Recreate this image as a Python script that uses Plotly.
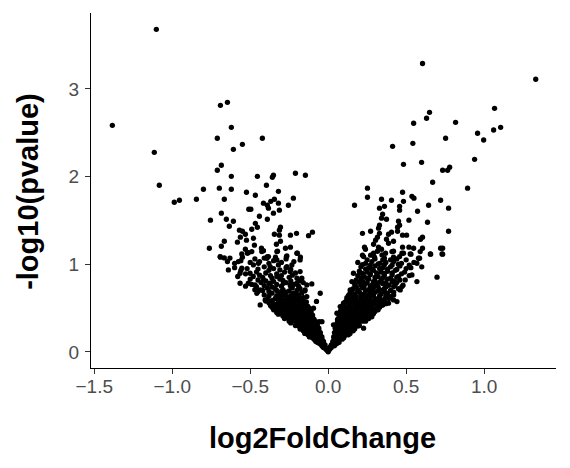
import plotly.graph_objects as go

# (log2FoldChange, -log10(pvalue)) pairs
down_sparse = [
    (-1.102, 3.68), (-1.384, 2.585), (-0.691, 2.813), (-0.646, 2.847), (-0.621, 2.562),
    (-0.711, 2.437), (-0.422, 2.437), (-1.115, 2.277), (-1.083, 1.901), (-0.550, 2.368),
    (-0.608, 2.311), (-0.685, 2.129), (-0.711, 2.072), (-0.621, 2.003), (-0.800, 1.855),
    (-0.698, 1.867), (-0.621, 1.855), (-0.524, 1.821), (-0.987, 1.707), (-0.954, 1.730),
    (-0.845, 1.741), (-0.666, 1.741), (-0.509, 1.627), (-0.685, 1.582), (-0.755, 1.502),
    (-0.653, 1.513), (-0.608, 1.490), (-0.634, 1.433), (-0.569, 1.388), (-0.550, 1.376),
    (-0.531, 1.342), (-0.563, 1.308), (-0.524, 1.274), (-0.582, 1.251), (-0.666, 1.262),
    (-0.685, 1.205), (-0.762, 1.182), (-0.531, 1.171), (-0.518, 1.125), (-0.691, 1.080),
    (-0.666, 1.072), (-0.550, 1.080),
    (-0.454, 2.003), (-0.358, 1.992), (-0.351, 2.015), (-0.210, 2.038), (-0.146, 2.015),
    (-0.396, 1.901), (-0.319, 1.832), (-0.467, 1.787), (-0.223, 1.753), (-0.345, 1.741),
    (-0.368, 1.718), (-0.415, 1.696), (-0.390, 1.673), (-0.319, 1.696), (-0.255, 1.673),
    (-0.383, 1.639), (-0.313, 1.616), (-0.351, 1.582), (-0.496, 1.627), (-0.441, 1.547),
    (-0.390, 1.513), (-0.467, 1.467), (-0.454, 1.422), (-0.490, 1.399), (-0.306, 1.422),
    (-0.313, 1.388), (-0.345, 1.342), (-0.313, 1.331), (-0.242, 1.331), (-0.203, 1.353),
    (-0.101, 1.365), (-0.126, 1.326), (-0.479, 1.296), (-0.306, 1.262), (-0.332, 1.228),
    (-0.473, 1.217), (-0.428, 1.182), (-0.415, 1.155), (-0.274, 1.182), (-0.242, 1.194),
    (-0.325, 1.148), (-0.197, 1.125), (-0.178, 1.080), (-0.390, 1.087), (-0.338, 1.080),
    (-0.268, 1.087),
]

down_middle = [
    (-0.693, 1.087), (-0.646, 1.030), (-0.640, 0.935), (-0.576, 1.030), (-0.554, 1.117),
    (-0.512, 1.132), (-0.490, 1.144), (-0.426, 1.144), (-0.383, 1.087), (-0.329, 1.144),
    (-0.265, 1.095), (-0.201, 1.125), (-0.180, 1.049), (-0.565, 0.897), (-0.554, 0.954),
    (-0.501, 0.897), (-0.479, 0.992), (-0.447, 1.011), (-0.393, 1.068), (-0.372, 0.973),
    (-0.329, 1.049), (-0.319, 0.992), (-0.265, 0.973), (-0.233, 0.992), (-0.244, 0.916),
    (-0.180, 0.916), (-0.169, 0.840), (-0.565, 0.783), (-0.512, 0.783), (-0.469, 0.764),
    (-0.436, 0.707), (-0.458, 0.669), (-0.415, 0.821), (-0.372, 0.783), (-0.329, 0.859),
    (-0.287, 0.783), (-0.244, 0.764), (-0.201, 0.783), (-0.137, 0.764), (-0.105, 0.775),
    (-0.148, 0.707), (-0.051, 0.669), (-0.075, 0.575), (-0.094, 0.498), (-0.058, 0.345),
    (-0.436, 0.536), (-0.372, 0.555), (-0.404, 0.593), (-0.308, 0.593), (-0.265, 0.631),
    (-0.223, 0.669), (-0.180, 0.593), (-0.137, 0.631),
    (-0.18, 0.72), (-0.23, 0.73), (-0.29, 0.71), (-0.34, 0.72), (-0.39, 0.73), (-0.47, 0.71),
    (-0.16, 0.79), (-0.22, 0.77), (-0.27, 0.79), (-0.33, 0.77), (-0.38, 0.78), (-0.43, 0.79),
    (-0.49, 0.77), (-0.20, 0.84), (-0.25, 0.85), (-0.31, 0.83), (-0.36, 0.84), (-0.42, 0.85),
    (-0.50, 0.83), (-0.58, 0.86), (-0.21, 0.90), (-0.28, 0.91), (-0.33, 0.89), (-0.40, 0.90),
    (-0.46, 0.91), (-0.53, 0.89), (-0.27, 0.96), (-0.35, 0.95), (-0.41, 0.97), (-0.52, 0.95),
    (-0.60, 0.96), (-0.30, 1.02), (-0.38, 1.01), (-0.44, 1.03), (-0.50, 1.02), (-0.60, 1.01),
    (-0.15, 0.695), (-0.20, 0.70), (-0.25, 0.695), (-0.30, 0.69), (-0.33, 0.70), (-0.38, 0.69),
    (-0.42, 0.70), (-0.45, 0.69), (-0.19, 0.75), (-0.24, 0.745), (-0.30, 0.75), (-0.36, 0.74),
    (-0.41, 0.755), (-0.46, 0.745), (-0.53, 0.75), (-0.18, 0.81), (-0.24, 0.81), (-0.29, 0.815),
    (-0.35, 0.805), (-0.40, 0.81), (-0.45, 0.82), (-0.23, 0.875), (-0.30, 0.87), (-0.37, 0.87),
    (-0.44, 0.875), (-0.48, 0.86), (-0.24, 0.94), (-0.31, 0.935), (-0.38, 0.93), (-0.45, 0.945),
    (-0.56, 0.93), (-0.22, 1.03), (-0.27, 1.06), (-0.35, 1.04), (-0.41, 1.07), (-0.47, 1.06),
    (-0.56, 1.04), (-0.63, 1.07),
]

down_core = [
    (-0.01, 0.02), (-0.02, 0.04), (0.00, 0.01), (-0.03, 0.05), (0.00, 0.00),
    (-0.02, 0.08), (-0.04, 0.07), (-0.05, 0.09),
    (-0.03, 0.12), (-0.05, 0.13), (-0.07, 0.11), (-0.08, 0.12),
    (-0.04, 0.17), (-0.06, 0.16), (-0.08, 0.18), (-0.10, 0.16), (-0.12, 0.17),
    (-0.05, 0.22), (-0.07, 0.21), (-0.09, 0.23), (-0.11, 0.21), (-0.13, 0.22), (-0.15, 0.21),
    (-0.06, 0.27), (-0.08, 0.26), (-0.10, 0.28), (-0.12, 0.26), (-0.14, 0.27), (-0.16, 0.28),
    (-0.18, 0.26),
    (-0.07, 0.31), (-0.09, 0.33), (-0.11, 0.32), (-0.13, 0.31), (-0.15, 0.33), (-0.17, 0.31),
    (-0.19, 0.32), (-0.21, 0.30),
    (-0.09, 0.37), (-0.11, 0.36), (-0.13, 0.38), (-0.15, 0.36), (-0.17, 0.37), (-0.19, 0.38),
    (-0.21, 0.36), (-0.23, 0.37), (-0.25, 0.35),
    (-0.10, 0.42), (-0.12, 0.41), (-0.14, 0.43), (-0.16, 0.41), (-0.19, 0.42), (-0.21, 0.43),
    (-0.23, 0.41), (-0.25, 0.42), (-0.27, 0.40), (-0.29, 0.41),
    (-0.11, 0.47), (-0.13, 0.46), (-0.15, 0.48), (-0.18, 0.46), (-0.20, 0.47), (-0.22, 0.48),
    (-0.25, 0.46), (-0.27, 0.47), (-0.29, 0.45), (-0.31, 0.46), (-0.33, 0.45),
    (-0.13, 0.52), (-0.16, 0.51), (-0.18, 0.53), (-0.21, 0.51), (-0.24, 0.52), (-0.26, 0.53),
    (-0.29, 0.51), (-0.31, 0.52), (-0.34, 0.50), (-0.36, 0.51),
    (-0.14, 0.57), (-0.17, 0.56), (-0.20, 0.58), (-0.23, 0.56), (-0.26, 0.58), (-0.29, 0.56),
    (-0.32, 0.57), (-0.35, 0.55), (-0.38, 0.56),
    (-0.16, 0.62), (-0.19, 0.61), (-0.22, 0.63), (-0.26, 0.61), (-0.30, 0.62), (-0.34, 0.61),
    (-0.39, 0.60),
    (-0.17, 0.67), (-0.21, 0.66), (-0.27, 0.68), (-0.31, 0.66), (-0.36, 0.67), (-0.41, 0.65),
]

down_core_fill = [
    (-0.015, 0.045), (-0.035, 0.06), (-0.03, 0.10), (-0.06, 0.10),
    (-0.04, 0.145), (-0.06, 0.14), (-0.09, 0.145),
    (-0.05, 0.195), (-0.07, 0.19), (-0.09, 0.20), (-0.11, 0.19), (-0.13, 0.195),
    (-0.06, 0.245), (-0.08, 0.24), (-0.10, 0.25), (-0.12, 0.24), (-0.14, 0.245), (-0.16, 0.24),
    (-0.07, 0.29), (-0.09, 0.30), (-0.11, 0.29), (-0.13, 0.295), (-0.15, 0.30), (-0.17, 0.29),
    (-0.19, 0.295),
    (-0.08, 0.345), (-0.10, 0.35), (-0.12, 0.34), (-0.14, 0.345), (-0.16, 0.35), (-0.18, 0.34),
    (-0.20, 0.345), (-0.22, 0.35), (-0.24, 0.33),
    (-0.10, 0.395), (-0.12, 0.39), (-0.14, 0.40), (-0.17, 0.39), (-0.20, 0.395), (-0.22, 0.40),
    (-0.24, 0.39), (-0.26, 0.385), (-0.28, 0.38),
    (-0.11, 0.445), (-0.14, 0.44), (-0.17, 0.45), (-0.19, 0.44), (-0.21, 0.445), (-0.24, 0.44),
    (-0.26, 0.445), (-0.28, 0.43), (-0.30, 0.435), (-0.32, 0.43),
    (-0.12, 0.495), (-0.14, 0.50), (-0.17, 0.49), (-0.19, 0.50), (-0.23, 0.495), (-0.26, 0.49),
    (-0.28, 0.50), (-0.30, 0.49), (-0.32, 0.485), (-0.35, 0.48),
    (-0.15, 0.545), (-0.19, 0.54), (-0.22, 0.545), (-0.25, 0.54), (-0.28, 0.545), (-0.30, 0.54),
    (-0.33, 0.535), (-0.37, 0.53),
    (-0.16, 0.595), (-0.21, 0.59), (-0.24, 0.60), (-0.28, 0.59), (-0.32, 0.595), (-0.36, 0.585),
    (-0.40, 0.58),
    (-0.19, 0.645), (-0.24, 0.64), (-0.29, 0.645), (-0.33, 0.64), (-0.38, 0.635),
]

up_sparse = [
    (0.605, 3.29), (1.331, 3.11), (0.650, 2.733), (0.631, 2.665), (0.548, 2.608),
    (0.817, 2.619), (1.067, 2.779), (0.958, 2.494), (1.061, 2.531), (1.106, 2.562),
    (0.753, 2.437), (0.997, 2.417), (0.413, 2.345), (0.483, 2.140),
    (0.169, 1.673), (0.252, 1.867), (0.252, 1.764), (0.342, 1.741), (0.406, 1.730),
    (0.477, 1.821), (0.483, 1.718), (0.329, 1.639), (0.361, 1.661), (0.458, 1.661),
    (0.458, 1.616), (0.349, 1.570), (0.342, 1.525), (0.374, 1.513), (0.451, 1.490),
    (0.518, 1.502), (0.329, 1.445), (0.323, 1.411), (0.445, 1.422), (0.458, 1.445),
    (0.220, 1.353), (0.272, 1.376), (0.329, 1.353), (0.387, 1.342), (0.406, 1.365),
    (0.445, 1.376), (0.477, 1.331), (0.503, 1.331), (0.316, 1.308), (0.304, 1.274),
    (0.374, 1.285), (0.419, 1.262), (0.387, 1.239), (0.291, 1.228), (0.477, 1.194),
    (0.518, 1.194), (0.233, 1.194), (0.239, 1.171), (0.323, 1.194), (0.342, 1.171),
    (0.316, 1.148), (0.419, 1.148), (0.368, 1.125), (0.483, 1.125), (0.220, 1.103),
    (0.272, 1.103), (0.297, 1.080), (0.361, 1.068), (0.419, 1.080), (0.458, 1.087),
    (0.543, 2.379), (0.939, 2.197), (0.599, 2.163), (0.734, 2.072), (0.766, 2.072),
    (0.779, 2.106), (0.670, 1.935), (0.894, 1.867), (0.537, 1.775), (0.550, 1.753),
    (0.721, 1.730), (0.644, 1.673), (0.772, 1.639), (0.573, 1.604), (0.637, 1.479),
    (0.772, 1.376), (0.605, 1.308), (0.592, 1.285), (0.548, 1.182), (0.605, 1.182),
    (0.721, 1.182), (0.734, 1.182), (0.531, 1.114), (0.657, 1.114), (0.734, 1.114),
    (0.586, 1.068),
]

up_middle = [
    (0.227, 1.087), (0.291, 1.125), (0.345, 1.106), (0.409, 1.144), (0.473, 1.125),
    (0.526, 1.117), (0.590, 1.144), (0.655, 1.117), (0.730, 1.117), (0.579, 1.068),
    (0.569, 1.011), (0.537, 0.878), (0.569, 0.802), (0.698, 0.852), (0.494, 0.821),
    (0.473, 0.745), (0.462, 0.707), (0.441, 0.574), (0.419, 0.593), (0.387, 0.555),
    (0.345, 0.536), (0.313, 0.555), (0.270, 0.517), (0.162, 0.897), (0.152, 0.802),
    (0.141, 0.707), (0.162, 0.631), (0.098, 0.555), (0.077, 0.517), (0.056, 0.441),
    (0.034, 0.308), (0.227, 0.270), (-0.040, 0.345),
    (0.16, 0.72), (0.19, 0.71), (0.22, 0.73), (0.26, 0.71), (0.29, 0.73), (0.33, 0.71),
    (0.36, 0.72), (0.40, 0.70), (0.45, 0.72),
    (0.17, 0.77), (0.21, 0.76), (0.24, 0.78), (0.28, 0.76), (0.31, 0.77), (0.35, 0.78),
    (0.39, 0.76), (0.43, 0.77), (0.48, 0.76),
    (0.18, 0.82), (0.22, 0.81), (0.26, 0.83), (0.30, 0.81), (0.34, 0.82), (0.38, 0.83),
    (0.42, 0.81), (0.46, 0.82),
    (0.19, 0.87), (0.23, 0.86), (0.27, 0.88), (0.32, 0.86), (0.36, 0.87), (0.41, 0.88),
    (0.45, 0.86), (0.52, 0.87),
    (0.20, 0.92), (0.25, 0.91), (0.29, 0.93), (0.34, 0.91), (0.38, 0.92), (0.43, 0.93),
    (0.49, 0.91),
    (0.21, 0.97), (0.26, 0.96), (0.30, 0.98), (0.35, 0.96), (0.40, 0.97), (0.46, 0.98),
    (0.53, 0.96), (0.60, 0.97),
    (0.19, 1.02), (0.24, 1.01), (0.28, 1.03), (0.33, 1.01), (0.37, 1.02), (0.42, 1.03),
    (0.47, 1.01), (0.55, 1.02),
    (0.18, 0.745), (0.23, 0.74), (0.27, 0.75), (0.32, 0.745), (0.37, 0.74), (0.42, 0.745),
    (0.20, 0.795), (0.25, 0.79), (0.29, 0.80), (0.33, 0.795), (0.37, 0.79), (0.41, 0.80),
    (0.44, 0.79), (0.21, 0.845), (0.25, 0.84), (0.30, 0.85), (0.35, 0.845), (0.40, 0.84),
    (0.44, 0.85), (0.22, 0.895), (0.27, 0.89), (0.31, 0.90), (0.36, 0.895), (0.41, 0.90),
    (0.47, 0.89), (0.24, 0.945), (0.28, 0.94), (0.33, 0.95), (0.38, 0.945), (0.44, 0.94),
    (0.50, 0.95), (0.22, 0.995), (0.27, 0.99), (0.32, 1.00), (0.36, 0.995), (0.41, 0.99),
    (0.45, 1.00), (0.52, 0.99), (0.25, 1.05), (0.30, 1.06), (0.35, 1.05), (0.40, 1.05),
    (0.44, 1.06), (0.50, 1.05),
]

up_core = [
    (0.01, 0.03), (0.02, 0.05),
    (0.02, 0.08), (0.04, 0.07), (0.05, 0.09),
    (0.03, 0.12), (0.05, 0.13), (0.07, 0.11),
    (0.035, 0.17), (0.06, 0.16), (0.08, 0.18), (0.10, 0.16),
    (0.04, 0.22), (0.06, 0.21), (0.08, 0.23), (0.10, 0.21), (0.12, 0.22), (0.14, 0.21),
    (0.045, 0.27), (0.07, 0.26), (0.09, 0.28), (0.11, 0.26), (0.13, 0.27), (0.15, 0.28),
    (0.17, 0.26),
    (0.05, 0.31), (0.07, 0.33), (0.10, 0.32), (0.12, 0.31), (0.14, 0.33), (0.16, 0.31),
    (0.18, 0.32), (0.20, 0.30),
    (0.06, 0.37), (0.08, 0.36), (0.10, 0.38), (0.13, 0.36), (0.15, 0.37), (0.17, 0.38),
    (0.19, 0.36), (0.22, 0.37), (0.24, 0.35),
    (0.07, 0.42), (0.09, 0.41), (0.11, 0.43), (0.14, 0.41), (0.16, 0.42), (0.18, 0.43),
    (0.21, 0.41), (0.23, 0.42), (0.26, 0.41), (0.28, 0.40),
    (0.08, 0.47), (0.10, 0.46), (0.13, 0.48), (0.15, 0.46), (0.18, 0.47), (0.20, 0.48),
    (0.23, 0.46), (0.25, 0.47), (0.28, 0.45), (0.30, 0.46),
    (0.09, 0.52), (0.12, 0.51), (0.14, 0.53), (0.17, 0.51), (0.20, 0.52), (0.22, 0.53),
    (0.25, 0.51), (0.28, 0.52), (0.31, 0.50), (0.33, 0.51),
    (0.11, 0.57), (0.13, 0.56), (0.16, 0.58), (0.19, 0.56), (0.22, 0.58), (0.25, 0.56),
    (0.28, 0.57), (0.31, 0.55), (0.34, 0.56), (0.37, 0.55),
    (0.12, 0.62), (0.15, 0.61), (0.18, 0.63), (0.21, 0.61), (0.24, 0.62), (0.27, 0.63),
    (0.30, 0.61), (0.33, 0.62), (0.36, 0.60), (0.39, 0.61),
    (0.14, 0.67), (0.17, 0.66), (0.20, 0.68), (0.23, 0.66), (0.27, 0.67), (0.30, 0.68),
    (0.34, 0.66), (0.38, 0.67), (0.42, 0.65),
]

up_core_fill = [
    (0.015, 0.06), (0.03, 0.10), (0.06, 0.10),
    (0.04, 0.145), (0.06, 0.14), (0.09, 0.145),
    (0.045, 0.195), (0.07, 0.19), (0.09, 0.20), (0.11, 0.19), (0.13, 0.195),
    (0.05, 0.245), (0.08, 0.24), (0.10, 0.25), (0.12, 0.24), (0.14, 0.245), (0.16, 0.24),
    (0.06, 0.29), (0.08, 0.30), (0.11, 0.29), (0.13, 0.295), (0.15, 0.30), (0.17, 0.29),
    (0.19, 0.295),
    (0.06, 0.345), (0.09, 0.35), (0.11, 0.34), (0.13, 0.345), (0.16, 0.35), (0.18, 0.34),
    (0.20, 0.345), (0.22, 0.35),
    (0.07, 0.395), (0.09, 0.39), (0.12, 0.40), (0.14, 0.39), (0.17, 0.395), (0.19, 0.40),
    (0.21, 0.39), (0.24, 0.385), (0.26, 0.38),
    (0.08, 0.445), (0.11, 0.44), (0.14, 0.45), (0.16, 0.44), (0.19, 0.445), (0.21, 0.44),
    (0.24, 0.445), (0.27, 0.43), (0.29, 0.435),
    (0.09, 0.495), (0.11, 0.50), (0.14, 0.49), (0.16, 0.50), (0.19, 0.495), (0.21, 0.49),
    (0.24, 0.50), (0.26, 0.49), (0.29, 0.485), (0.32, 0.48),
    (0.10, 0.545), (0.14, 0.54), (0.17, 0.545), (0.20, 0.54), (0.23, 0.545), (0.26, 0.54),
    (0.29, 0.545), (0.32, 0.53), (0.35, 0.535),
    (0.12, 0.595), (0.15, 0.59), (0.18, 0.60), (0.21, 0.59), (0.24, 0.595), (0.27, 0.59),
    (0.30, 0.585), (0.33, 0.59), (0.36, 0.58),
    (0.13, 0.645), (0.17, 0.64), (0.21, 0.645), (0.25, 0.64), (0.29, 0.645), (0.33, 0.64),
    (0.37, 0.635), (0.40, 0.63),
    (0.15, 0.695), (0.19, 0.69), (0.24, 0.695), (0.28, 0.69), (0.32, 0.695), (0.36, 0.69),
    (0.42, 0.68),
]

x_ticks = [-1.5, -1.0, -0.5, 0.0, 0.5, 1.0]
y_ticks = [0, 1, 2, 3]

groups = [down_sparse, down_middle, down_core, down_core_fill,
          up_sparse, up_middle, up_core, up_core_fill]
log2fc = [p[0] for g in groups for p in g]
neglog10p = [p[1] for g in groups for p in g]

FONT = "Liberation Sans, Arial, sans-serif"

fig = go.Figure(
    go.Scatter(
        x=log2fc, y=neglog10p, mode="markers",
        marker=dict(size=5.3, color="black", line=dict(width=0)),
        hoverinfo="skip",
    )
)

axis_common = dict(
    showgrid=False, zeroline=False, showline=True, linecolor="black", linewidth=1.4,
    ticks="outside", ticklen=5, tickwidth=1.4, tickcolor="#333333",
    tickfont=dict(family=FONT, size=19, color="#4D4D4D"),
)

fig.update_xaxes(range=[-1.521, 1.461], tickvals=x_ticks, ticklabelstandoff=-4,
                 ticktext=[f"{v:.1f}".replace("-", "\u2212") for v in x_ticks], **axis_common)
fig.update_yaxes(range=[-0.184, 3.866], tickvals=y_ticks, ticklabelstandoff=2,
                 ticktext=[str(v) for v in y_ticks], **axis_common)

# the page body adds an 8px offset, so the figure is 8px smaller than the window
fig.update_layout(
    width=562, height=460,
    margin=dict(l=83, r=14, t=5, b=100),
    plot_bgcolor="white", paper_bgcolor="white",
    showlegend=False,
    annotations=[
        dict(text="<b>log2FoldChange</b>", xref="paper", yref="paper", x=0.497, y=-0.197,
             xanchor="center", yanchor="middle", showarrow=False,
             font=dict(family=FONT, size=29, color="black")),
        dict(text="<b>-log10(pvalue)</b>", xref="paper", yref="paper", x=-0.1355, y=0.499,
             xanchor="center", yanchor="middle", textangle=-90, showarrow=False,
             font=dict(family=FONT, size=29, color="black")),
    ],
)

fig.write_html("out.html")
